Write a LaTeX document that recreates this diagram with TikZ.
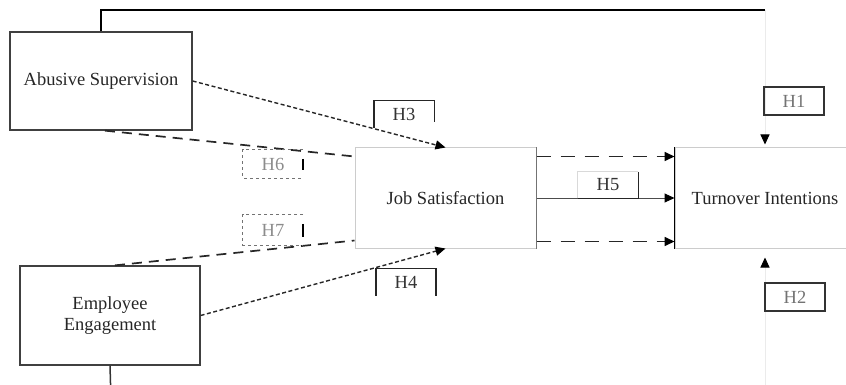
\documentclass[tikz,border=0pt]{standalone}
\usepackage{fontspec}
\setmainfont{Liberation Serif}
\usetikzlibrary{arrows.meta}
\begin{document}
\begin{tikzpicture}[x=1pt,y=-1pt,
  font=\fontsize{18.5}{21}\selectfont,
  darkbox/.style={draw=black!75,line width=1.3pt,minimum width=182pt,minimum height=98pt,inner sep=0pt,align=center,text=black!85},
  lightbox/.style={draw=black!20,line width=1pt,minimum width=181pt,minimum height=100pt,inner sep=0pt,align=center,text=black!85},
  lab/.style={draw=black!80,line width=1.2pt,minimum width=60pt,minimum height=28pt,inner sep=0pt,text=black!55},
  labopen/.style={minimum width=60pt,minimum height=27pt,inner sep=0pt,text=black!80},
  tipp/.style={-{Triangle[length=10pt,width=9pt,color=black]}},
  sdash/.style={dash pattern=on 4pt off 2.5pt,line width=1.4pt,black!85},
  ldash/.style={dash pattern=on 10pt off 7pt,line width=1.7pt,black!85},
  ldash2/.style={dash pattern=on 14pt off 10pt,line width=1.7pt,black!85}]
\useasboundingbox (0,0) rectangle (846,385);
\clip (0,0) rectangle (846,385);

% main nodes
\node[darkbox] (as) at (101,81) {Abusive Supervision};
\node[darkbox,minimum width=180pt,minimum height=99pt] (ee) at (110,315.5) {Employee\\Engagement};
\node[lightbox] (js) at (445.5,198) {Job Satisfaction};
\node[lightbox,minimum width=180pt] (ti) at (765,198) {Turnover Intentions};
\draw[line width=1.8pt,black] (ti.north west) -- (ti.south west);
\draw[line width=1.2pt,black!55] (js.north east) -- (js.south east);

% H1 path (top)
\coordinate (tc) at (765,10);
\draw[line width=2.4pt,black] (as.north) |- (tc);
\draw[black!8,line width=1pt,tipp] (tc) -- ([yshift=3pt]ti.north);
\node[lab] (h1) at (794,101) {H1};

% H2 path (bottom)
\coordinate (bc) at (111,400);
\draw[line width=1.5pt,black!80] (ee.south) -- (bc);
\draw[line width=1pt,black!8] (bc) -- (bc -| ti.south);
\draw[black!8,line width=1pt,tipp] (bc -| ti.south) -- ([yshift=-9pt]ti.south);
\node[lab] (h2) at (795,297) {H2};

% H3
\draw[sdash,tipp] (as.east) -- (js.north);
\node[labopen] (h3) at (404,114.5) {H3};
\draw[line width=1.4pt,black!85] (h3.south west) |- (h3.north east) -- ([yshift=6pt]h3.south east);

% H4
\draw[sdash,tipp] (ee.east) -- (js.south);
\node[labopen] (h4) at (406,282) {H4};
\draw[line width=1.6pt,black!85] (h4.south west) |- (h4.north east) -- (h4.south east);

% H6
\coordinate (as6) at ([xshift=4pt]as.south);
\coordinate (js6) at ([yshift=-9pt]js.north west);
\draw[ldash] (as6) -- (js6);
\node[labopen,minimum height=28pt,text=black!45] (h6) at (273,164) {H6};
\draw[dashed,line width=1pt,black!55] (h6.north east) -- (h6.north west) -- (h6.south west) -- (h6.south east);
\draw[line width=1.6pt,black] ([yshift=-9pt]h6.north east) -- ([yshift=8pt]h6.south east);

% H7
\coordinate (ee7) at ([xshift=5pt]ee.north);
\coordinate (js7) at ([yshift=8pt]js.south west);
\draw[ldash] (ee7) -- (js7);
\node[labopen,minimum height=30pt,text=black!45] (h7) at (273,230) {H7};
\draw[dashed,line width=1pt,black!55] (h7.north east) -- (h7.north west) -- (h7.south west) -- (h7.south east);
\draw[line width=1.6pt,black] ([yshift=-9pt]h7.north east) -- ([yshift=8pt]h7.south east);

% Job Satisfaction -> Turnover Intentions
\draw[ldash2,tipp] ([yshift=-9pt]js.north east) -- ([yshift=-9pt]ti.north west);
\draw[line width=1pt,black!70,tipp] (js.east) -- (ti.west);
\draw[ldash2,tipp] ([yshift=7pt]js.south east) -- ([yshift=7pt]ti.south west);
\node[labopen,minimum width=60pt,minimum height=26pt] (h5) at (608,185) {H5};
\draw[line width=1pt,black!15] (h5.south west) -- (h5.north west) -- (h5.north east);
\draw[line width=1.4pt,black!85] (h5.north east) -- (h5.south east) -- (h5.south west);
\end{tikzpicture}
\end{document}
